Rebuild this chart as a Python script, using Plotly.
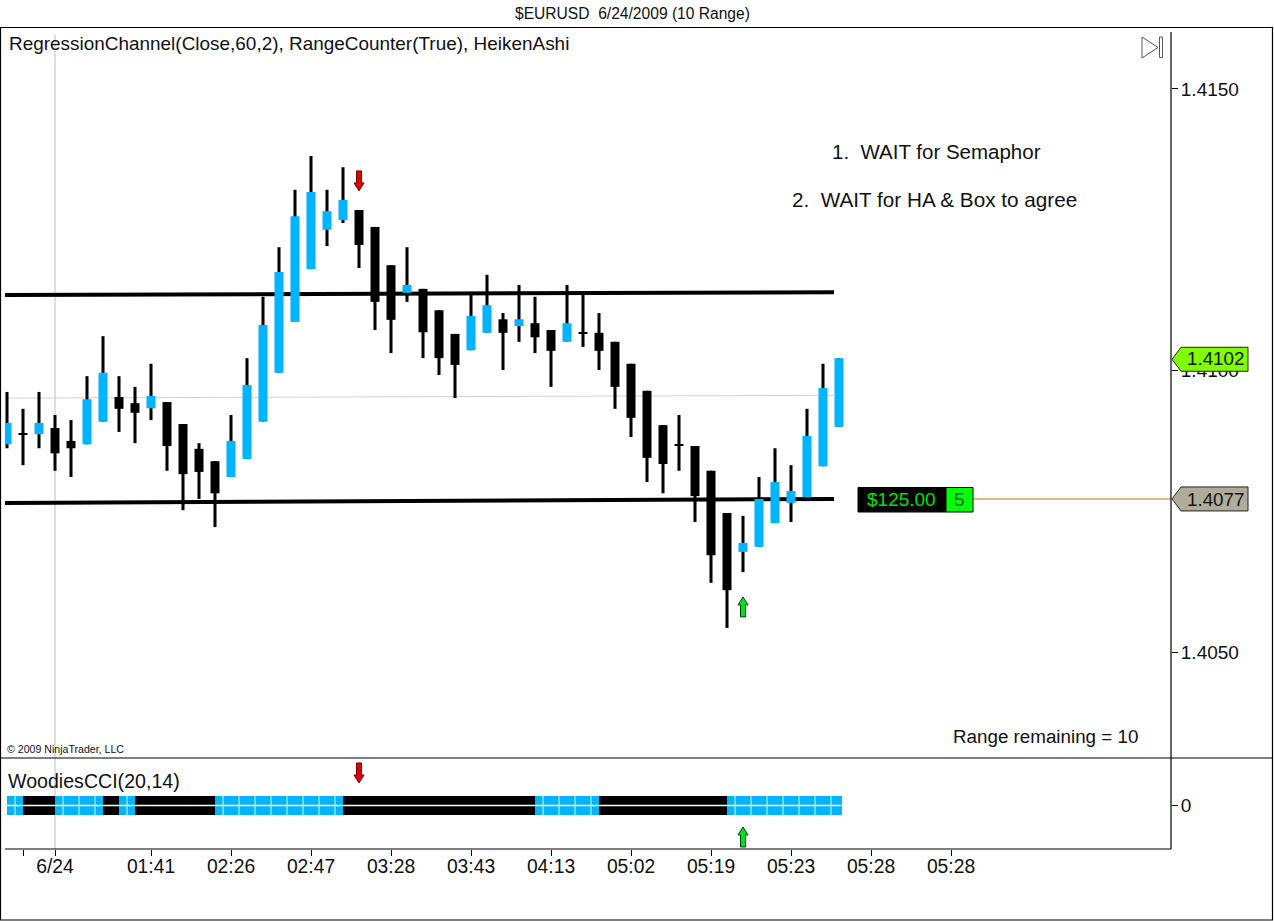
import plotly.graph_objects as go

W, H = 1274, 921
FONT = "Liberation Sans, Arial, sans-serif"
BLUE = "#00B4FF"

bar_high = [1.40962,1.40932,1.40962,1.40921,1.40912,1.40990,1.41061,1.40990,1.40971,1.41012,
            1.40944,1.40905,1.40871,1.40839,1.40921,1.41022,1.41131,1.41219,1.41321,1.41381,
            1.41321,1.41361,1.41285,1.41255,1.41187,1.41219,1.41145,1.41107,1.41065,1.41138,
            1.41170,1.41102,1.41152,1.41131,1.41072,1.41152,1.41138,1.41102,1.41051,1.41012,
            1.40964,1.40903,1.40921,1.40866,1.40822,1.40747,1.40742,1.40811,1.40862,1.40832,
            1.40932,1.41012,1.41022]
bar_low = [1.40862,1.40832,1.40862,1.40822,1.40811,1.40869,1.40909,1.40891,1.40871,1.40912,
           1.40822,1.40752,1.40772,1.40722,1.40811,1.40843,1.40909,1.40996,1.41086,1.41180,
           1.41221,1.41262,1.41182,1.41072,1.41031,1.41122,1.41022,1.40992,1.40951,1.41036,
           1.41067,1.41001,1.41051,1.41031,1.40971,1.41051,1.41042,1.41001,1.40932,1.40882,
           1.40802,1.40782,1.40822,1.40731,1.40623,1.40543,1.40642,1.40687,1.40729,1.40731,
           1.40775,1.40830,1.40900]
bar_open = [1.40869,1.40888,1.40887,1.40898,1.40875,1.40869,1.40909,1.40953,1.40942,1.40933,
            1.40944,1.40905,1.40861,1.40839,1.40811,1.40843,1.40909,1.40996,1.41086,1.41180,
            1.41250,1.41267,1.41285,1.41255,1.41187,1.41138,1.41145,1.41107,1.41065,1.41036,
            1.41067,1.41091,1.41079,1.41084,1.41072,1.41051,1.41068,1.41067,1.41051,1.41012,
            1.40964,1.40903,1.40869,1.40866,1.40822,1.40747,1.40678,1.40687,1.40729,1.40765,
            1.40775,1.40830,1.40900]
bar_close = [1.40907,1.40886,1.40907,1.40853,1.40862,1.40949,1.40996,1.40932,1.40925,1.40955,
             1.40866,1.40816,1.40820,1.40782,1.40875,1.40974,1.41081,1.41175,1.41274,1.41317,
             1.41283,1.41303,1.41223,1.41122,1.41090,1.41152,1.41068,1.41022,1.41010,1.41097,
             1.41116,1.41067,1.41091,1.41059,1.41035,1.41084,1.41066,1.41035,1.40971,1.40916,
             1.40845,1.40834,1.40866,1.40777,1.40672,1.40610,1.40694,1.40772,1.40802,1.40786,
             1.40884,1.40969,1.41022]

channel_x = [-0.125, 51.69]
channel_upper = [1.41134, 1.41139]
channel_mid = [1.40951, 1.40956]
channel_lower = [1.40765, 1.40772]

cci_state = [1,-1,-1,1,1,1,-1,1,-1,-1,-1,-1,-1,
             1,1,1,1,1,1,1,1,
             -1,-1,-1,-1,-1,-1,-1,-1,-1,-1,-1,-1,
             1,1,1,1,
             -1,-1,-1,-1,-1,-1,-1,-1,
             1,1,1,1,1,1,1]
cci_half_height = 100

x_tick_index = [1, 3, 9, 14, 19, 24, 29, 34, 39, 44, 49, 54, 59]
x_tick_text = ["", "6/24", "01:41", "02:26", "02:47", "03:28", "03:43", "04:13",
               "05:02", "05:19", "05:23", "05:28", "05:28"]
y_tick_vals = [1.4150, 1.4100, 1.4050]
y_tick_text = ["1.4150", "1.4100", "1.4050"]

last_price = 1.4102
entry_price = 1.40772
entry_line_x = [60.375, 72.75]
sell_signal = (22, 1.41319)
buy_signal = (46, 1.40598)
sell_signal_cci = (22, 237)
buy_signal_cci = (46, -226)

n = len(bar_high)
idx = list(range(n))
fig = go.Figure()

# channel sits on the primary axes so the candles overlay it
fig.add_trace(go.Scatter(x=channel_x, y=channel_mid, mode="lines", line=dict(color="#D2D2D2", width=1), xaxis="x", yaxis="y"))
fig.add_trace(go.Scatter(x=channel_x, y=channel_upper, mode="lines", line=dict(color="black", width=4), xaxis="x", yaxis="y"))
fig.add_trace(go.Scatter(x=channel_x, y=channel_lower, mode="lines", line=dict(color="black", width=4), xaxis="x", yaxis="y"))
fig.add_trace(go.Scatter(x=entry_line_x, y=[entry_price, entry_price], mode="lines", line=dict(color="#DEB887", width=2), xaxis="x", yaxis="y"))

fig.add_trace(go.Bar(x=idx, y=[h - l for h, l in zip(bar_high, bar_low)], base=bar_low, width=0.19,
                     marker=dict(color="black", line=dict(width=0)), xaxis="x3", yaxis="y3"))
fig.add_trace(go.Bar(x=idx, y=[abs(c - o) for o, c in zip(bar_open, bar_close)],
                     base=[min(o, c) for o, c in zip(bar_open, bar_close)], width=0.5625,
                     marker=dict(color=[BLUE if c > o else "black" for o, c in zip(bar_open, bar_close)], line=dict(width=0)),
                     xaxis="x3", yaxis="y3"))

# indicator panel
m = len(cci_state)
fig.add_trace(go.Bar(x=list(range(m)), y=[2 * cci_half_height] * m, base=-cci_half_height, offset=0,
                     width=[1] * (m - 1) + [1.19],
                     marker=dict(color=[BLUE if s > 0 else "black" for s in cci_state], line=dict(width=0)),
                     xaxis="x2", yaxis="y2"))
vx, vy = [], []
for i, s in enumerate(cci_state):
    if s > 0:
        vx += [i + 0.5, i + 0.5, None]
        vy += [-cci_half_height, cci_half_height, None]
fig.add_trace(go.Scatter(x=vx, y=vy, mode="lines", line=dict(color="#DDF4FF", width=1), connectgaps=False, xaxis="x2", yaxis="y2"))
fig.add_trace(go.Scatter(x=[0, m + 0.19], y=[0, 0], mode="lines", line=dict(color="white", width=1.5), xaxis="x2", yaxis="y2"))


def px(x):
    return x / W


def py(y):
    return 1 - y / H


def rect(x0, y0, x1, y1, fill=None, line="black", lw=1, layer="above"):
    return dict(type="rect", xref="paper", yref="paper", x0=px(x0), x1=px(x1), y0=py(y0), y1=py(y1),
                fillcolor=fill or "rgba(0,0,0,0)", line=dict(color=line, width=lw), layer=layer)


def seg(x0, y0, x1, y1, color="black", lw=1, layer="above"):
    return dict(type="line", xref="paper", yref="paper", x0=px(x0), x1=px(x1), y0=py(y0), y1=py(y1),
                line=dict(color=color, width=lw), layer=layer)


def arrow(pt, xref, yref, fill, edge, up):
    d = -1 if up else 1
    path = (f"M 0 0 L 5 {8*d} L 2.5 {8*d} L 2.5 {20*d} L -2.5 {20*d} L -2.5 {8*d} L -5 {8*d} Z")
    return dict(type="path", xref=xref, yref=yref, xsizemode="pixel", ysizemode="pixel",
                xanchor=pt[0], yanchor=pt[1], path=path, fillcolor=fill, line=dict(color=edge, width=1), layer="above")


def tag(price, fill):
    path = "M 1 0 L 10 12 L 77 12 L 77 -12 L 10 -12 Z"
    return dict(type="path", xref="paper", yref="y", xsizemode="pixel", ysizemode="pixel",
                xanchor=1171 / W, yanchor=price, path=path, fillcolor=fill, line=dict(color="#222", width=1), layer="above")


shapes = [
    rect(0.5, 27.5, 1272.5, 920, line="black", lw=1.2),
    seg(0, 758, 1273, 758, lw=1.2),
    seg(1171, 32, 1171, 849, lw=1.2),
    seg(5, 849, 1171, 849, lw=1.2),
    seg(55, 35, 55, 849, color="#BDBDBD", lw=1, layer="below"),
    arrow(sell_signal, "x", "y", "#E00000", "#700000", False),
    arrow(buy_signal, "x", "y", "#00E020", "#004000", True),
    arrow(sell_signal_cci, "x2", "y2", "#E00000", "#700000", False),
    arrow(buy_signal_cci, "x2", "y2", "#00E020", "#004000", True),
    tag(last_price, "#7FFF00"),
    tag(entry_price, "#B0AC9C"),
    rect(858, 487.5, 946, 512, fill="black"),
    rect(946, 487.5, 973, 512, fill="#00FF00"),
    dict(type="path", xref="paper", yref="paper",
         path=f"M {px(1142)} {py(37)} L {px(1158)} {py(47.5)} L {px(1142)} {py(58)} Z",
         fillcolor="white", line=dict(color="#555", width=1), layer="above"),
    rect(1159.5, 37, 1162.5, 57.5, fill="white", line="#555"),
]


def txt(s, x, y, size, color="#111", anchor="left"):
    return dict(text=s, xref="paper", yref="paper", x=px(x), y=py(y), xanchor=anchor, yanchor="middle",
                showarrow=False, borderpad=0, font=dict(family=FONT, size=size, color=color))


annotations = [
    txt("$EURUSD&nbsp;&nbsp;6/24/2009 (10 Range)", 632, 13, 15.6, anchor="center"),
    txt("RegressionChannel(Close,60,2),&nbsp;RangeCounter(True),&nbsp;HeikenAshi", 7.5, 43, 18.95),
    txt("1.&nbsp;&nbsp;WAIT for Semaphor", 831, 152, 20.5),
    txt("2.&nbsp;&nbsp;WAIT for HA &amp; Box to agree", 791, 199.5, 20.7),
    txt("Range remaining = 10", 952, 736.5, 18.8),
    txt("© 2009 NinjaTrader, LLC", 6, 749, 10.6),
    txt("WoodiesCCI(20,14)", 7, 781, 19.6),
    txt(f"{last_price:.4f}", 1186, 359, 18.8),
    txt(f"{entry_price:.4f}", 1186, 499, 18.8),
    txt("$125.00", 866, 499, 19, color="#00E000"),
    txt("5", 953, 499, 19, color="#063"),
]

x_range = [-0.125, 72.75]
y_range = [1.40312, 1.41610]
x_dom = [5 / W, 1171 / W]
y_dom = [1 - 758 / H, 1 - 27 / H]
y2_dom = [1 - 849 / H, 1 - 758 / H]

fig.update_layout(
    width=W, height=H, margin=dict(l=0, r=0, t=0, b=0), paper_bgcolor="white", plot_bgcolor="white",
    showlegend=False, barmode="overlay", hovermode=False, font=dict(family=FONT, color="#111"),
    shapes=shapes, annotations=annotations,
    xaxis=dict(domain=x_dom, range=x_range, visible=False, anchor="y"),
    yaxis=dict(domain=y_dom, range=y_range, side="right", anchor="x", showgrid=False, zeroline=False,
               tickmode="array", tickvals=y_tick_vals, ticktext=y_tick_text, ticks="outside", ticklen=6,
               ticklabelstandoff=-1, tickcolor="black", tickfont=dict(size=19, family=FONT)),
    xaxis3=dict(domain=x_dom, range=x_range, visible=False, overlaying="x", anchor="y3"),
    yaxis3=dict(domain=y_dom, range=y_range, visible=False, overlaying="y", anchor="x3"),
    xaxis2=dict(domain=x_dom, range=x_range, anchor="y2", showgrid=False, zeroline=False,
                tickmode="array", tickvals=x_tick_index, ticktext=x_tick_text, ticks="outside", ticklen=6,
                ticklabelstandoff=-6, tickcolor="black", tickfont=dict(size=19.3, family=FONT)),
    yaxis2=dict(domain=y2_dom, range=[-458, 500], side="right", anchor="x2", showgrid=False, zeroline=False,
                tickmode="array", tickvals=[0], ticktext=["0"], ticks="outside", ticklen=6,
                ticklabelstandoff=-1, tickcolor="black", tickfont=dict(size=19, family=FONT)),
)

fig.write_html("out.html", config={"displayModeBar": False},
               post_script="document.body.style.margin='0';document.body.style.overflow='hidden';")
